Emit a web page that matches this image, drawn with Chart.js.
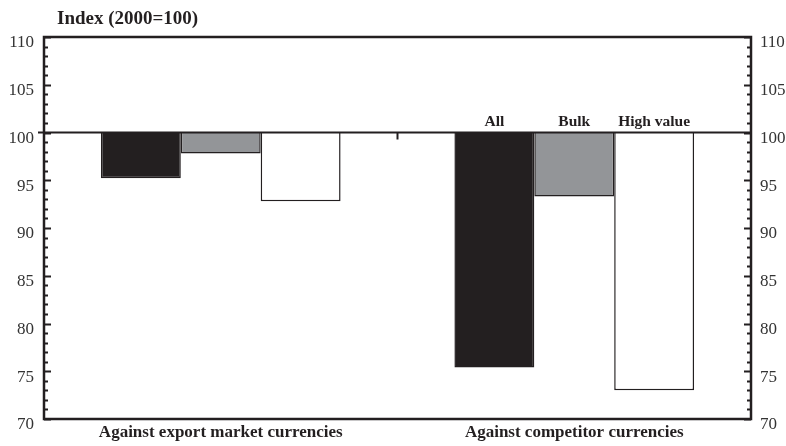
<!DOCTYPE html>
<html lang="en">
<head>
    <meta charset="UTF-8">
    <title>Index (2000=100)</title>
    <script src="https://cdn.jsdelivr.net/npm/chart.js"></script>
    <style>
        body { margin: 0; background: #fff; }
        #wrap { width: 786px; height: 446px; }
    </style>
</head>
<body>
    <div id="wrap">
        <canvas id="indexChart" width="786" height="446"></canvas>
    </div>

    <script>
        const categories = ['Against export market currencies', 'Against competitor currencies'];
        const seriesNames = ['All', 'Bulk', 'High value'];
        const allValues = [95.2, 75.4];
        const bulkValues = [97.8, 93.3];
        const highValues = [92.8, 73.0];
        const yMin = 70;
        const yMax = 110;
        const baseValue = 100;
        const titleText = 'Index (2000=100)';

        const serif = '"Liberation Serif", "DejaVu Serif", serif';
        const ink = '#231f20';

        // frame, inward ticks, the 100 line and the labels over the bars
        const decorations = {
            id: 'decorations',
            afterDraw(chart) {
                const ctx = chart.ctx;
                const area = chart.chartArea;
                const y = chart.scales.y;
                const x = chart.scales.x;
                ctx.save();
                ctx.strokeStyle = ink;

                // minor/major ticks on both sides
                ctx.lineWidth = 2;
                for (let v = yMin; v <= yMax; v++) {
                    const py = Math.round(y.getPixelForValue(v)) + 0.5;
                    const len = v % 5 === 0 ? 7 : 4;
                    ctx.beginPath();
                    ctx.moveTo(area.left, py);
                    ctx.lineTo(area.left + len, py);
                    ctx.moveTo(area.right, py);
                    ctx.lineTo(area.right - len, py);
                    ctx.stroke();
                }

                // baseline at 100
                const p100 = y.getPixelForValue(baseValue);
                ctx.lineWidth = 2;
                ctx.beginPath();
                ctx.moveTo(area.left - 6, p100);
                ctx.lineTo(area.right, p100);
                ctx.stroke();

                // divider tick between the two groups
                const mid = (x.getPixelForValue(0) + x.getPixelForValue(1)) / 2;
                ctx.beginPath();
                ctx.moveTo(mid, p100);
                ctx.lineTo(mid, p100 + 7);
                ctx.stroke();

                // frame
                ctx.lineWidth = 2.5;
                ctx.strokeRect(area.left, area.top, area.right - area.left, area.bottom - area.top);

                // series names above the second group
                ctx.fillStyle = ink;
                ctx.font = 'bold 15.5px ' + serif;
                ctx.textAlign = 'center';
                ctx.textBaseline = 'alphabetic';
                seriesNames.forEach((name, i) => {
                    const bar = chart.getDatasetMeta(i).data[1];
                    ctx.fillText(name, bar.x, p100 - 7);
                });

                // axis title
                ctx.font = 'bold 19px ' + serif;
                ctx.textAlign = 'left';
                ctx.fillText(titleText, 57, 24);
                ctx.restore();
            }
        };

        const ctx = document.getElementById('indexChart').getContext('2d');
        new Chart(ctx, {
            type: 'bar',
            data: {
                labels: categories,
                datasets: [
                    { label: seriesNames[0], data: allValues, backgroundColor: ink, borderColor: ink },
                    { label: seriesNames[1], data: bulkValues, backgroundColor: '#939598', borderColor: ink },
                    { label: seriesNames[2], data: highValues, backgroundColor: '#ffffff', borderColor: ink }
                ]
            },
            options: {
                responsive: false,
                animation: false,
                layout: { padding: { top: 37, left: 0, right: 0, bottom: 0 } },
                datasets: {
                    bar: {
                        base: baseValue,
                        borderWidth: 1.5,
                        borderSkipped: 'start',
                        categoryPercentage: 0.678,
                        barPercentage: 1
                    }
                },
                plugins: {
                    legend: { display: false },
                    tooltip: { enabled: false }
                },
                scales: {
                    x: {
                        grid: { display: false, drawTicks: false },
                        border: { display: false },
                        ticks: {
                            color: ink,
                            padding: 3,
                            font: { family: serif, size: 17, weight: 'bold' }
                        },
                        afterFit(scale) { scale.height = 27; }
                    },
                    y: {
                        position: 'left',
                        min: yMin,
                        max: yMax,
                        grid: { display: false, drawTicks: false },
                        border: { display: false },
                        ticks: {
                            stepSize: 5,
                            padding: 10,
                            labelOffset: 6,
                            color: '#333',
                            font: { family: serif, size: 17 }
                        },
                        afterFit(scale) { scale.width = 44; }
                    },
                    y2: {
                        position: 'right',
                        min: yMin,
                        max: yMax,
                        grid: { display: false, drawTicks: false },
                        border: { display: false },
                        ticks: {
                            stepSize: 5,
                            padding: 9,
                            labelOffset: 6,
                            color: '#333',
                            font: { family: serif, size: 17 }
                        },
                        afterFit(scale) { scale.width = 35; }
                    }
                }
            },
            plugins: [decorations]
        });
    </script>
</body>
</html>
